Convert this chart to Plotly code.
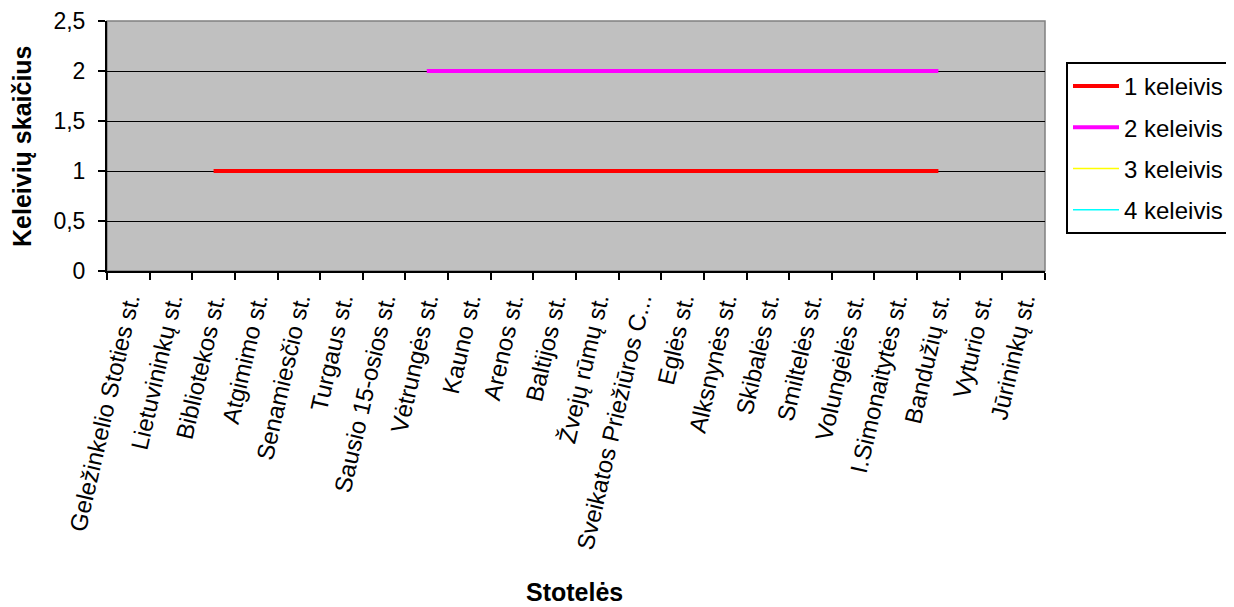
import plotly.graph_objects as go

categories = [
    "Geležinkelio Stoties st.", "Lietuvininkų st.", "Bibliotekos st.", "Atgimimo st.",
    "Senamiesčio st.", "Turgaus st.", "Sausio 15-osios st.", "Vėtrungės st.",
    "Kauno st.", "Arenos st.", "Baltijos st.", "Žvejų rūmų st.",
    "Sveikatos Priežiūros C...", "Eglės st.", "Alksnynės st.", "Skibalės st.",
    "Smiltelės st.", "Volungėlės st.", "I.Simonaitytės st.", "Bandužių st.",
    "Vyturio st.", "Jūrininkų st.",
]
keleivis_1 = [None, None, 1, 1, 1, 1, 1, 1, 1, 1, 1, 1, 1, 1, 1, 1, 1, 1, 1, 1, None, None]
keleivis_2 = [None, None, None, None, None, None, None, 2, 2, 2, 2, 2, 2, 2, 2, 2, 2, 2, 2, 2, None, None]
keleivis_3 = [None] * 22
keleivis_4 = [None] * 22

series_names = ["1 keleivis", "2 keleivis", "3 keleivis", "4 keleivis"]
series_values = [keleivis_1, keleivis_2, keleivis_3, keleivis_4]
series_colors = ["#FF0000", "#FF00FF", "#FFFF00", "#00FFFF"]
series_widths = [4, 4, 1.5, 1.5]

FONT = "Liberation Sans, Arial, sans-serif"

# page body has an 8px default margin; the figure is sized so the plot lands where the reference has it
OFF = 8
W, H = 1234 - OFF, 607 - OFF
L, T, R, B = 107 - OFF, 21 - OFF, 1234 - 1045, 607 - 271
PW, PH = 1045 - 107, 271 - 21

fig = go.Figure()
for i, (n, v, c, w) in enumerate(zip(series_names, series_values, series_colors, series_widths)):
    fig.add_trace(go.Scatter(
        x=categories, y=v, name=n, mode="lines",
        line=dict(color=c, width=w), connectgaps=False,
        showlegend=True, legendgroup=f"g{i}",
    ))

fig.update_layout(
    width=W, height=H,
    margin=dict(l=L, r=R, t=T, b=B, autoexpand=False),
    paper_bgcolor="white",
    plot_bgcolor="#C0C0C0",
    separators=",.",
    font=dict(family=FONT, size=23, color="black"),
    legend=dict(
        x=(1066 - 107) / PW, xanchor="left",
        y=(271 - 62) / PH, yanchor="top",
        bordercolor="black", borderwidth=2, bgcolor="white",
        font=dict(family=FONT, size=24, color="black"),
        traceorder="grouped", tracegroupgap=7,
        itemwidth=46,
    ),
    shapes=[dict(type="rect", xref="paper", yref="paper", x0=0, y0=0, x1=1, y1=1,
                 line=dict(color="#808080", width=1.5), layer="below")],
    annotations=[
        dict(text="<b>Stotelės</b>", xref="paper", yref="paper",
             x=(574 - 107) / PW, y=(271 - 592) / PH, xanchor="center", yanchor="middle",
             showarrow=False, font=dict(family=FONT, size=25, color="black")),
        dict(text="<b>Keleivių skaičius</b>", xref="paper", yref="paper",
             x=(22 - 107) / PW, y=0.5, xanchor="center", yanchor="middle", textangle=-90,
             showarrow=False, font=dict(family=FONT, size=25, color="black")),
    ],
)
fig.update_xaxes(
    type="category", categoryorder="array", categoryarray=categories,
    tickson="boundaries", ticks="outside", ticklen=7, tickwidth=1.5, tickcolor="black",
    showline=True, linecolor="black", linewidth=2,
    showgrid=False, tickangle=-77, ticklabelstandoff=4, automargin=False,
    tickfont=dict(family=FONT, size=24, color="black"),
    range=[-0.5, len(categories) - 0.5], fixedrange=True,
)
fig.update_yaxes(
    range=[0, 2.5], dtick=0.5, tick0=0,
    ticks="outside", ticklen=7, tickwidth=1.5, tickcolor="black",
    showline=True, linecolor="black", linewidth=2,
    showgrid=True, gridcolor="black", gridwidth=1,
    zeroline=False, ticklabelstandoff=8, automargin=False,
    tickfont=dict(family=FONT, size=23, color="black"),
    fixedrange=True,
)
fig.write_html("out.html")
